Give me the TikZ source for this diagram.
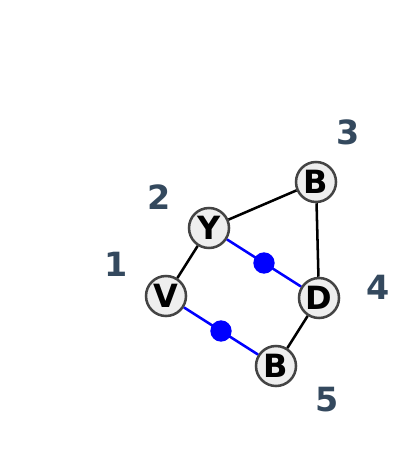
\documentclass[tikz,border=0pt]{standalone}
\usepackage{fontspec}
\setmainfont{DejaVu Sans}
\usetikzlibrary{positioning}
\definecolor{labelgray}{HTML}{34495E}
\definecolor{nodefill}{HTML}{EEEEEE}
\definecolor{nodeedge}{HTML}{444444}

\begin{document}
\begin{tikzpicture}[x=0.75pt, y=-0.75pt,
    vertex/.style={draw=nodeedge, fill=nodefill, circle, line width=1.9pt, minimum size=30pt, inner sep=0pt, font=\fontsize{24}{24}\selectfont\bfseries},
    num/.style={text=labelgray, font=\fontsize{25}{25}\selectfont\bfseries},
    dot/.style={fill=blue, circle, minimum size=16pt, inner sep=0pt},
    plain/.style={line width=1.9pt, black},
    bond/.style={line width=1.9pt, blue}]

        \useasboundingbox (0,0) rectangle (400,463);

        % vertices
        \node[vertex] (V) at (166,296) {V};
        \node[vertex] (Y) at (209,228) {Y};
        \node[vertex] (B3) at (316,182) {B};
        \node[vertex] (D) at (319,298) {D};
        \node[vertex] (B5) at (276,366) {B};

        % vertex numbers
        \node[num] (n1) at (116,264) {1};
        \node[num] (n2) at (159,197) {2};
        \node[num] (n3) at (348,132) {3};
        \node[num] (n4) at (378,287) {4};
        \node[num] (n5) at (327,400) {5};

        % edges
        \draw[plain] (V) -- (Y);
        \draw[plain] (Y) -- (B3);
        \draw[plain] (B3) -- (D);
        \draw[plain] (D) -- (B5);
        \draw[bond] (Y) -- (D) node[dot, midway] (m1) {};
        \draw[bond] (V) -- (B5) node[dot, midway] (m2) {};

\end{tikzpicture}
\end{document}
